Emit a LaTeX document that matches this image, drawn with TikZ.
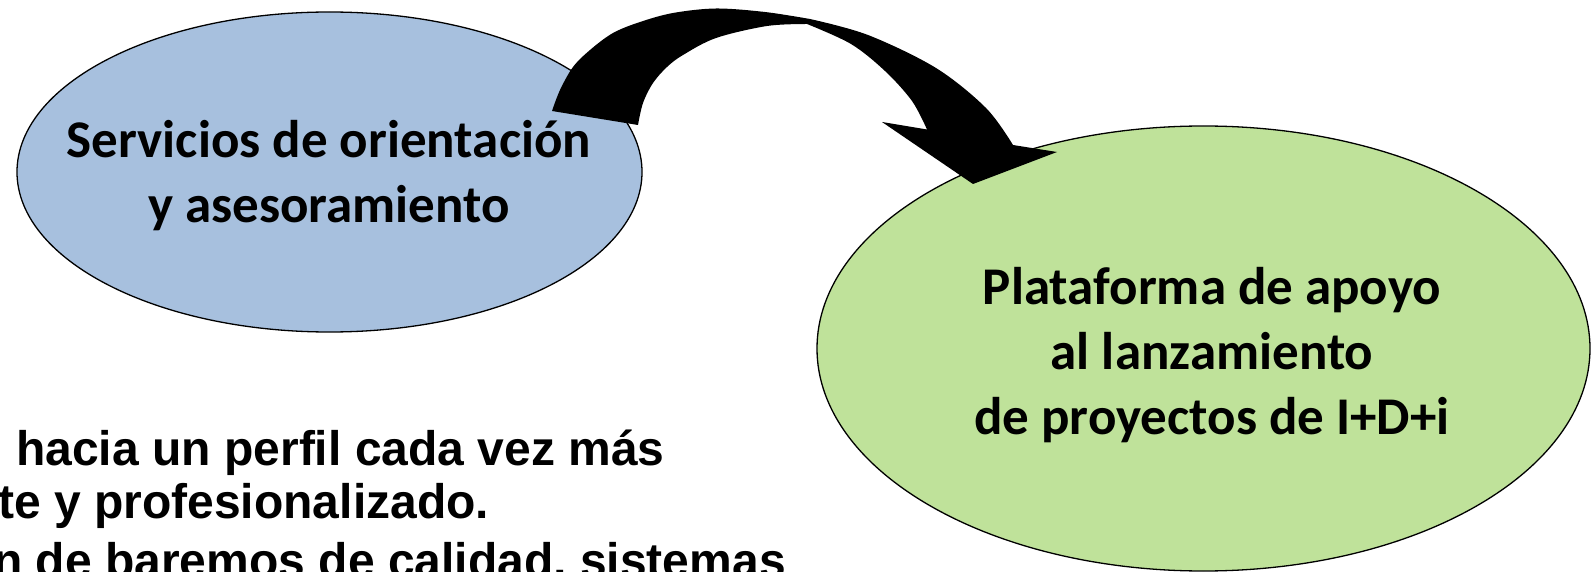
\documentclass[tikz,border=0pt]{standalone}
\usepackage{fontspec}
\setmainfont{Carlito}
\newfontfamily\arialfont{Liberation Sans}
\definecolor{blueFill}{HTML}{A7C0DE}
\definecolor{greenFill}{HTML}{BFE29A}
\newcommand{\narrowtext}[1]{\scalebox{0.99}[1]{#1}}
\begin{document}
\begin{tikzpicture}[x=1pt,y=-1pt,
  bubbletext/.style={font=\fontsize{53}{65}\selectfont\bfseries,align=center,text=black},
  bodytext/.style={font=\arialfont\fontsize{48.5}{54}\selectfont\bfseries,anchor=base west,inner sep=0pt,text=black}]
\useasboundingbox (0,0) rectangle (1591,572);
\clip (0,0) rectangle (1591,572);
% ellipses
\fill[blueFill] (329.5,172) ellipse [x radius=312.5,y radius=160];
\draw[line width=1.3pt] (329.5,172) ellipse [x radius=312.5,y radius=160];
\fill[greenFill] (1203.5,348.5) ellipse [x radius=386.5,y radius=222.5];
\draw[line width=1.3pt] (1203.5,348.5) ellipse [x radius=386.5,y radius=222.5];
\node[bubbletext] (blue) at (329,176) {Servicios de orientación\\y asesoramiento};
\node[bubbletext] (green) at (1212,355) {Plataforma de apoyo\\al lanzamiento\\de proyectos de I+D+i};
% curved arrow
\fill[black] plot[smooth,tension=0.55] coordinates {(552,111) (560,90) (573,67) (590,50) (613,33) (640,22) (673,13) (716,8.5) (765,12) (810,19)}
  -- plot[smooth,tension=0.55] coordinates {(810,19) (868,35) (936,68) (986,108) (1013,145)}
  -- (1057,152) -- (973,184) -- (882,122) -- (927,129.5)
  -- plot[smooth,tension=0.55] coordinates {(927,129.5) (912,101) (885,71) (851,44) (807,24)}
  -- plot[smooth,tension=0.55] coordinates {(807,24) (767,26) (716,38) (683,55) (667,67) (653,83) (643,103) (638,125)}
  -- cycle;
% bottom text (clipped on the left and bottom)
\node[bodytext] (l1) at (16,465) {\narrowtext{hacia un perfil cada vez más}};
\node[bodytext] (l2) at (-2,518) {\narrowtext{te y profesionalizado.}};
\node[bodytext] (l3) at (-7,577) {\narrowtext{n de baremos de calidad, sistemas}};
\end{tikzpicture}
\end{document}
